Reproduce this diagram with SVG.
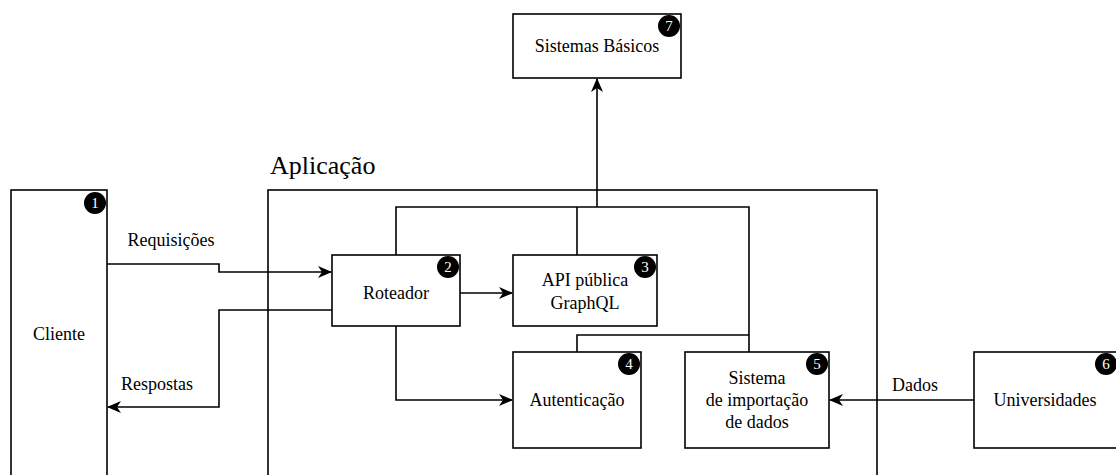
<svg xmlns="http://www.w3.org/2000/svg" width="1116" height="475" viewBox="0 0 1116 475" font-family="'Liberation Serif', 'DejaVu Serif', 'Times New Roman', Times, serif">
<style>
.box{fill:#fff;stroke:#000;stroke-width:1.6}
.frame{fill:none;stroke:#000;stroke-width:1.6}
.ln{fill:none;stroke:#000;stroke-width:1.6}
text{font-family:'Liberation Serif','DejaVu Serif','Times New Roman',Times,serif}
.t{font-size:18px;fill:#000;text-anchor:middle}
.big{font-size:26px;fill:#000}
.bd{fill:#000}
.bn{font-size:15px;fill:#fff;text-anchor:middle}
</style>
<defs>
<marker id="ar" viewBox="0 0 14 12" refX="13" refY="6" markerWidth="14" markerHeight="12" markerUnits="userSpaceOnUse" orient="auto">
<path d="M0,0 L14,6 L0,12 L4,6 z" fill="#000"/>
</marker>
</defs>
<rect width="1116" height="475" fill="#fff"/>
<g id="aplicacao">
<rect class="frame" x="268" y="190" width="609" height="300"/>
<text class="big" x="270" y="174">Aplicação</text>
</g>
<g id="cliente">
<rect class="box" x="11" y="190" width="96" height="300"/>
<text class="t" x="59" y="340">Cliente</text>
<circle class="bd" cx="95" cy="203" r="11"/><text class="bn" x="95" y="208">1</text>
</g>
<g id="connectors">
<polyline class="ln" points="107,264 219,264 219,272 331,272" marker-end="url(#ar)"/>
<polyline class="ln" points="332,310 219,310 219,407 108,407" marker-end="url(#ar)"/>
<line class="ln" x1="460" y1="293" x2="512" y2="293" marker-end="url(#ar)"/>
<polyline class="ln" points="396,326 396,400 512,400" marker-end="url(#ar)"/>
<line class="ln" x1="974" y1="400" x2="830" y2="400" marker-end="url(#ar)"/>
<polyline class="ln" points="396,255 396,207 749,207 749,352"/>
<line class="ln" x1="577" y1="255" x2="577" y2="207"/>
<polyline class="ln" points="577,352 577,335 749,335"/>
<line class="ln" x1="597" y1="207" x2="597" y2="79" marker-end="url(#ar)"/>
<text class="t" x="171" y="246">Requisições</text>
<text class="t" x="157" y="390">Respostas</text>
<text class="t" x="915" y="391">Dados</text>
</g>
<g id="sistemas-basicos">
<rect class="box" x="513" y="14" width="168" height="64"/>
<text class="t" x="597" y="52">Sistemas Básicos</text>
<circle class="bd" cx="669" cy="26" r="11"/><text class="bn" x="669" y="31">7</text>
</g>
<g id="roteador">
<rect class="box" x="332" y="255" width="128" height="71"/>
<text class="t" x="396" y="299">Roteador</text>
<circle class="bd" cx="448" cy="267" r="11"/><text class="bn" x="448" y="272">2</text>
</g>
<g id="api">
<rect class="box" x="513" y="255" width="144" height="71"/>
<text class="t" x="585" y="286">API pública</text>
<text class="t" x="585" y="309">GraphQL</text>
<circle class="bd" cx="645" cy="267" r="11"/><text class="bn" x="645" y="272">3</text>
</g>
<g id="autenticacao">
<rect class="box" x="513" y="352" width="128" height="96"/>
<text class="t" x="577" y="406">Autenticação</text>
<circle class="bd" cx="629" cy="364" r="11"/><text class="bn" x="629" y="369">4</text>
</g>
<g id="importacao">
<rect class="box" x="685" y="352" width="144" height="96"/>
<text class="t" x="757" y="384">Sistema</text>
<text class="t" x="757" y="406">de importação</text>
<text class="t" x="757" y="428">de dados</text>
<circle class="bd" cx="817" cy="364" r="11"/><text class="bn" x="817" y="369">5</text>
</g>
<g id="universidades">
<rect class="box" x="974" y="352" width="146" height="96"/>
<text class="t" x="1045" y="406">Universidades</text>
<circle class="bd" cx="1106" cy="364" r="11"/><text class="bn" x="1106" y="369">6</text>
</g>
</svg>
